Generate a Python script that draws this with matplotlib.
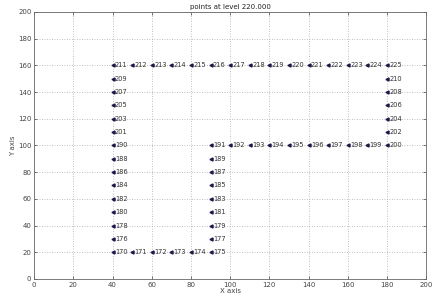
import matplotlib
matplotlib.use("Agg")
import matplotlib.pyplot as plt

ids = list(range(170, 226))
xs = [40, 50, 60, 70, 80, 90,
      40, 90, 40, 90, 40, 90, 40, 90, 40, 90, 40, 90, 40, 90,
      40, 90, 100, 110, 120, 130, 140, 150, 160, 170, 180,
      40, 180, 40, 180, 40, 180, 40, 180, 40, 180,
      40, 50, 60, 70, 80, 90, 100, 110, 120, 130, 140, 150, 160, 170, 180]
ys = [20, 20, 20, 20, 20, 20,
      30, 30, 40, 40, 50, 50, 60, 60, 70, 70, 80, 80, 90, 90,
      100, 100, 100, 100, 100, 100, 100, 100, 100, 100, 100,
      110, 110, 120, 120, 130, 130, 140, 140, 150, 150,
      160, 160, 160, 160, 160, 160, 160, 160, 160, 160, 160, 160, 160, 160, 160]
xticks = list(range(0, 201, 20))
yticks = list(range(0, 201, 20))

plt.rcParams['font.family'] = ['DejaVu Sans']
fig = plt.figure(figsize=(4.33, 2.98), dpi=100)
ax = fig.add_axes([0.079, 0.064, 0.905, 0.896])
ax.plot(xs, ys, linestyle='none', marker='<', markersize=2.2, color='#1a1a4a')
for i, x, y in zip(ids, xs, ys):
    ax.text(x + 1.2, y, str(i), fontsize=4.8, va='center', ha='left', color='#333333')
ax.set_xlim(0, 200)
ax.set_ylim(0, 200)
ax.set_xticks(xticks)
ax.set_yticks(yticks)
ax.tick_params(labelsize=5, length=2, width=0.5, direction='in', top=True, right=True, colors='#444444', pad=2)
ax.grid(True, linestyle=(0, (1, 2)), linewidth=0.6, color='#aaaaaa')
for s in ax.spines.values():
    s.set_linewidth(0.6)
    s.set_color('#666666')
ax.set_title('points at level 220.000', fontsize=5, pad=2, color='#222222')
ax.set_xlabel('X axis', fontsize=5, labelpad=0.5, color='#444444')
ax.set_ylabel('Y axis', fontsize=5, labelpad=1, color='#444444')
fig.savefig('out.png', dpi=100)
